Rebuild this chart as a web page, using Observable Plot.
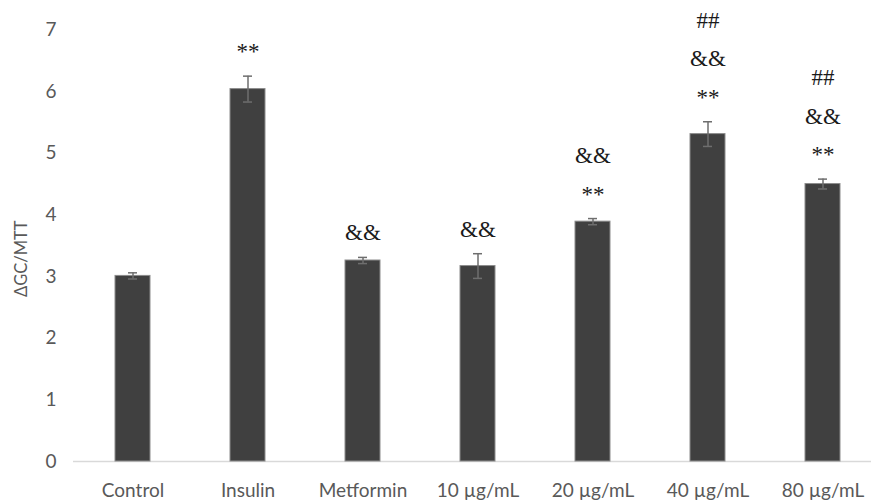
<!DOCTYPE html>
<html><head><meta charset="utf-8">
<script src="https://cdn.jsdelivr.net/npm/d3@7"></script>
<script src="https://cdn.jsdelivr.net/npm/@observablehq/plot@0.6"></script>
<style>body{margin:0;background:#fff;}#chart svg{display:block;}</style>
</head><body><div id="chart"></div>
<script>
const groups = ["Control", "Insulin", "Metformin", "10 µg/mL", "20 µg/mL", "40 µg/mL", "80 µg/mL"];
const means = [3.01, 6.04, 3.26, 3.17, 3.89, 5.31, 4.50];
const errors = [0.05, 0.21, 0.05, 0.20, 0.05, 0.20, 0.08];
const signif = ["", "**", "&&", "&&", "&&\n**", "##\n&&\n**", "##\n&&\n**"];
const yTicks = [0, 1, 2, 3, 4, 5, 6, 7];
const yLabel = "ΔGC/MTT";

const data = groups.map((g, i) => ({group: g, mean: means[i], err: errors[i], sig: signif[i]}));

const chart = Plot.plot({
  width: 871,
  height: 500,
  marginTop: 29.4,
  marginBottom: 39,
  marginLeft: 73,
  marginRight: -12,
  style: {fontFamily: "Lato, sans-serif", background: "#fff"},
  x: {domain: groups, paddingInner: 0.692, paddingOuter: 0.346, label: null},
  y: {domain: [0, 7], label: null},
  marks: [
    Plot.axisY({ticks: yTicks, tickFormat: "d", tickSize: 0, tickPadding: 17, fontSize: 19, color: "#595959", label: null}),
    Plot.axisX({tickSize: 0, tickPadding: 22, fontSize: 19, color: "#595959", label: null}),
    Plot.text([yLabel], {frameAnchor: "left", textAnchor: "middle", lineAnchor: "middle", rotate: -90, dx: -52, dy: 13, fontSize: 16.5, fill: "#595959"}),
    Plot.ruleY([0], {stroke: "#d9d9d9", strokeWidth: 1.5}),
    Plot.barY(data, {x: "group", y: "mean", fill: "#404040", stroke: "#8c8c8c", strokeWidth: 1}),
    Plot.ruleX(data, {x: "group", y1: d => d.mean - d.err, y2: d => d.mean + d.err, stroke: "#6e6e6e", strokeWidth: 1.5}),
    Plot.tickY(data, {x: "group", y: d => d.mean + d.err, insetLeft: 13, insetRight: 13, stroke: "#6e6e6e", strokeWidth: 1.5}),
    Plot.tickY(data, {x: "group", y: d => d.mean - d.err, insetLeft: 13, insetRight: 13, stroke: "#6e6e6e", strokeWidth: 1.5}),
    Plot.text(data, {x: "group", y: d => d.mean + d.err, text: "sig", lineAnchor: "bottom", lineHeight: 1.67, dy: -17,
      fontSize: 23, fontFamily: "Liberation Serif, serif", fill: "#1a1a1a"})
  ]
});
document.getElementById("chart").appendChild(chart);
</script>
</body></html>
